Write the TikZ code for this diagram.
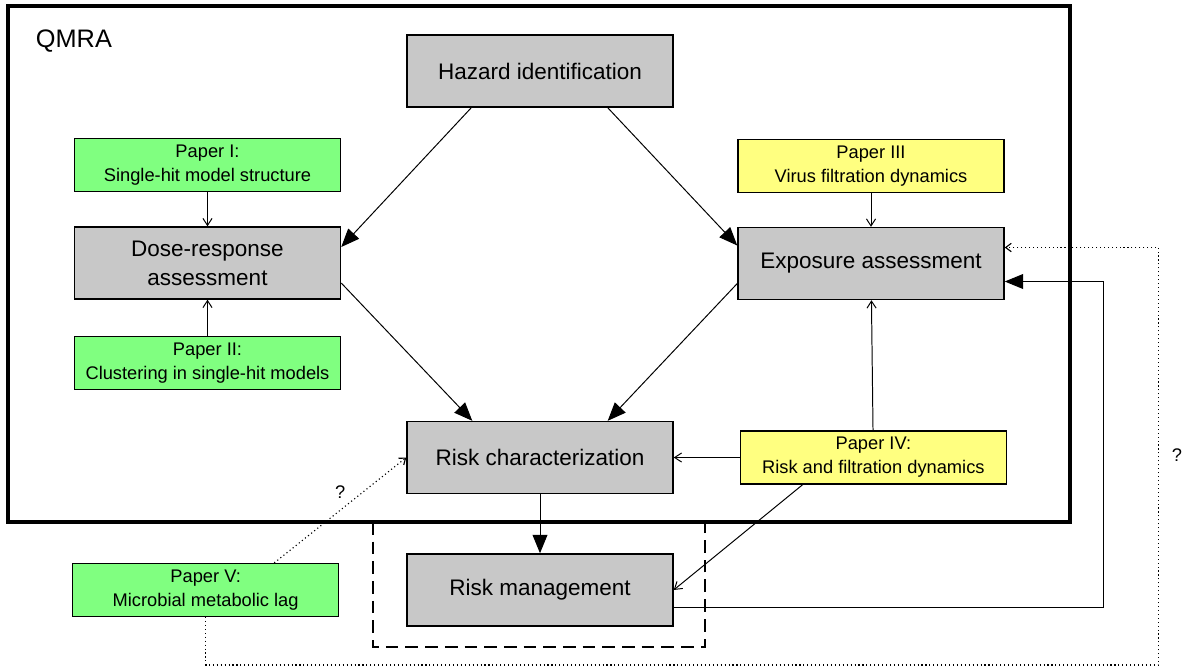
\documentclass[tikz,border=0pt]{standalone}
\usepackage{fontspec}
\setmainfont{Liberation Sans}
\usepackage{tikz}
\usetikzlibrary{arrows.meta, positioning}
\definecolor{boxgray}{RGB}{200,200,200}
\definecolor{papergreen}{RGB}{128,255,128}
\definecolor{paperyellow}{RGB}{255,255,128}

\begin{document}
\begin{tikzpicture}[
        x=0.025cm, y=-0.025cm,
        node distance=0.85cm and 1.65cm,
        stage/.style={rectangle, draw, line width=1pt, fill=boxgray, minimum width=6.65cm, minimum height=1.8cm, inner sep=0pt, align=center, font=\fontsize{16}{20.5}\selectfont},
        paper/.style={rectangle, draw, line width=0.8pt, minimum width=6.65cm, minimum height=1.325cm, inner sep=0pt, align=center, font=\fontsize{13}{17}\selectfont},
        bigarrow/.style={-{Triangle[length=13pt, width=10.5pt]}, line width=0.7pt},
        arrow/.style={-{Straight Barb[length=5pt, width=6.5pt]}, line width=0.7pt},
        maybe/.style={dotted, line width=0.8pt, -{Straight Barb[length=4pt, width=6pt]}},
        qmark/.style={font=\fontsize{13}{16}\selectfont}
    ]
        \useasboundingbox (0,0) rectangle (1185,666);

        \node[stage] (hazard) at (540,71) {Hazard identification};
        \node[stage] (dose) at (207.5,263) {Dose-response\\assessment};
        \node[stage] (exposure) at (871,263.5) {Exposure assessment};
        \node[stage] (riskchar) at (540,457.5) {Risk characterization};
        \node[stage, below=1.475cm of riskchar] (riskmgmt) {Risk management};

        % papers
        \node[paper, fill=papergreen, above=of dose] (paperI) {Paper I:\\Single-hit model structure};
        \node[paper, fill=papergreen, below=0.9cm of dose] (paperII) {Paper II:\\Clustering in single-hit models};
        \node[paper, fill=paperyellow, above=of exposure] (paperIII) {Paper III\\Virus filtration dynamics};
        \node[paper, fill=paperyellow, right=of riskchar] (paperIV) {Paper IV:\\Risk and filtration dynamics};
        \node[paper, fill=papergreen, left=1.675cm of riskmgmt] (paperV) {Paper V:\\Microbial metabolic lag};

        \draw[dash pattern=on 9pt off 5pt, line width=0.8pt] (373,522) rectangle (705,647);
        \draw[line width=2.5pt] (8,6) rectangle (1070,522);
        \node[font=\fontsize{18}{22}\selectfont, anchor=base west] (qmra) at (31,47) {QMRA};

        \draw[bigarrow] ([xshift=1.625cm]hazard.south west) -- ([yshift=0.4cm]dose.east);
        \draw[bigarrow] ([xshift=-1.65cm]hazard.south east) -- ([yshift=0.45cm]exposure.west);
        \draw[bigarrow] ([yshift=-0.5cm]dose.east) -- ([xshift=1.65cm]riskchar.north west);
        \draw[bigarrow] ([yshift=-0.5cm]exposure.west) -- ([xshift=-1.65cm]riskchar.north east);
        \draw[bigarrow] (riskchar) -- (riskmgmt);

        \draw[arrow] (paperI) -- (dose);
        \draw[arrow] (paperII) -- (dose);
        \draw[arrow] (paperIII) -- (exposure);
        \draw[arrow] (paperIV) -- (exposure);
        \draw[arrow] (paperIV) -- (riskchar);
        \draw[arrow] ([xshift=1.575cm]paperIV.south west) -- (riskmgmt.east);

        % feedback loops
        \draw[bigarrow] ([yshift=-0.45cm]riskmgmt.east) -| ([xshift=2.475cm, yshift=-0.45cm]exposure.east) -- ([yshift=-0.45cm]exposure.east);
        \draw[maybe] (paperV.south) -- ++(0,-1.2cm) -| ([xshift=3.85cm, yshift=0.4cm]exposure.east) -- ([yshift=0.4cm]exposure.east);
        \node[qmark] (qright) at (1177,455) {?};
        \draw[maybe] ([xshift=-1.625cm]paperV.north east) -- node[qmark, above=0.15cm] (qleft) {?} (riskchar.west);
    \end{tikzpicture}
\end{document}
